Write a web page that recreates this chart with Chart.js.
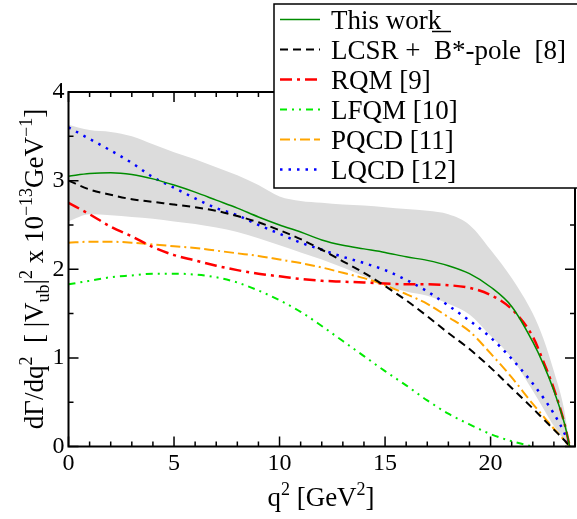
<!DOCTYPE html>
<html><head><meta charset="utf-8">
<script src="https://cdn.jsdelivr.net/npm/chart.js@4.4.0/dist/chart.umd.min.js"></script>
<style>html,body{margin:0;padding:0;background:#fff;overflow:hidden}</style>
</head><body>
<canvas id="c" width="577" height="519" style="display:block;width:577px;height:519px"></canvas>
<script>
// ---- data ----
const qAll = [0,1,2,3,4,5,6,7,8,9,10,11,12,13,14,15,16,17,18,19,20,21,22,22.5,23,23.5,23.75];
const thisWork = [3.05,3.08,3.09,3.07,3.02,2.95,2.87,2.78,2.69,2.59,2.50,2.42,2.33,2.27,2.23,2.19,2.14,2.10,2.04,1.95,1.80,1.58,1.18,0.93,0.63,0.26,0];
const bandHi   = [3.63,3.57,3.55,3.50,3.41,3.32,3.24,3.15,3.06,2.95,2.82,2.77,2.75,2.73,2.72,2.70,2.68,2.66,2.62,2.50,2.22,1.90,1.50,1.22,0.85,0.40,0];
const bandLo   = [2.54,2.62,2.61,2.59,2.57,2.54,2.51,2.47,2.42,2.35,2.27,2.19,2.11,2.02,1.92,1.82,1.75,1.70,1.61,1.49,1.25,1.00,0.63,0.43,0.23,0.07,0];
const lcsr     = [3.00,2.90,2.84,2.79,2.76,2.73,2.70,2.66,2.60,2.53,2.44,2.34,2.22,2.09,1.96,1.81,1.65,1.47,1.28,1.10,0.89,0.66,0.43,0.31,0.19,0.07,0];
const rqm      = [2.75,2.62,2.48,2.37,2.25,2.16,2.10,2.04,1.99,1.95,1.92,1.89,1.87,1.86,1.85,1.84,1.83,1.83,1.82,1.79,1.71,1.55,1.24,0.96,0.65,0.26,0];
const pqcd     = [2.30,2.31,2.31,2.30,2.28,2.26,2.24,2.21,2.18,2.15,2.11,2.07,2.02,1.96,1.90,1.82,1.72,1.61,1.46,1.30,1.05,0.78,0.48,0.34,0.20,0.07,0];
const lqcd     = [3.60,3.47,3.34,3.20,3.04,2.92,2.80,2.69,2.61,2.50,2.40,2.30,2.22,2.14,2.07,1.99,1.88,1.75,1.59,1.42,1.23,0.99,0.71,0.55,0.37,0.15,0];
const qLfqm    = [0,1,2,3,4,5,6,7,8,9,10,11,12,13,14,15,16,17,18,19,20,21,22];
const lfqm     = [1.83,1.87,1.91,1.93,1.95,1.95,1.94,1.91,1.85,1.76,1.65,1.52,1.36,1.19,1.02,0.85,0.69,0.52,0.37,0.25,0.14,0.06,0.0];
const xTicks = [0,5,10,15,20];
const yTicks = [0,1,2,3,4];
const seriesNames = ['This work','LCSR + ','RQM [9]','LFQM [10]','PQCD [11]','LQCD [12]'];
const lcsrTail = ['B','*-pole  [8]'];

const SERIF = '"Liberation Serif","DejaVu Serif",serif';
const pts = (xs, ys) => xs.map((x,i)=>({x:x,y:ys[i]}));

const styles = [
  {c:'rgb(0,140,0)', w:1.5, d:[]},
  {c:'#000000', w:2, d:[8,5]},
  {c:'#ff0000', w:2.5, d:[12,5,3,5]},
  {c:'rgb(0,235,0)', w:2, d:[7,5,2,5,2,5]},
  {c:'rgb(255,165,0)', w:2, d:[10,4,2,4,10,4]},
  {c:'#0000ff', w:2.5, d:[2.5,6]}
];
const seriesData = [pts(qAll,thisWork), pts(qAll,lcsr), pts(qAll,rqm), pts(qLfqm,lfqm), pts(qAll,pqcd), pts(qAll,lqcd)];

const datasets = seriesData.map((d,i)=>({
  label: seriesNames[i], data: d, borderColor: styles[i].c, borderWidth: styles[i].w,
  borderDash: styles[i].d, pointRadius: 0, fill: false, cubicInterpolationMode: 'monotone'
}));
datasets.push({label:'bandHi', data: pts(qAll,bandHi), borderWidth:0, borderColor:'rgba(0,0,0,0)', pointRadius:0,
  fill:'+1', backgroundColor:'rgb(220,220,220)', cubicInterpolationMode:'monotone'});
datasets.push({label:'bandLo', data: pts(qAll,bandLo), borderWidth:0, borderColor:'rgba(0,0,0,0)', pointRadius:0,
  fill:false, cubicInterpolationMode:'monotone'});

function richWidth(ctx, segs, size){
  let w=0;
  for(const [t,k] of segs){ ctx.font = (k==='n'?size:Math.round(size*0.65))+'px '+SERIF; w+=ctx.measureText(t).width; }
  return w;
}
function drawRich(ctx, segs, x, y, size){
  for(const [t,k] of segs){
    const s = k==='n'?size:Math.round(size*0.65);
    const dy = k==='sup'? -size*0.42 : (k==='sub'? size*0.22 : 0);
    ctx.font = s+'px '+SERIF;
    ctx.fillText(t, x, y+dy);
    x += ctx.measureText(t).width;
  }
}

const framePlugin = {
  id:'frame',
  afterDatasetsDraw(chart){
    const {ctx, chartArea:a, scales:{x,y}} = chart;
    ctx.save();
    ctx.strokeStyle='#000'; ctx.lineWidth=1.5;
    ctx.beginPath();
    for(let v=0; v<=24; v+=1){
      const px = x.getPixelForValue(v); const L = (v%5===0)?10:5;
      ctx.moveTo(px,a.bottom); ctx.lineTo(px,a.bottom-L);
      ctx.moveTo(px,a.top); ctx.lineTo(px,a.top+L);
    }
    for(let v=0; v<=4; v+=0.5){
      const py = y.getPixelForValue(v); const L = (v%1===0)?10:5;
      ctx.moveTo(a.left,py); ctx.lineTo(a.left+L,py);
      ctx.moveTo(a.right,py); ctx.lineTo(a.right-L,py);
    }
    ctx.stroke();
    ctx.lineWidth=2;
    ctx.strokeRect(a.left,a.top,a.right-a.left,a.bottom-a.top);
    ctx.restore();
  },
  afterDraw(chart){
    const ctx = chart.ctx;
    ctx.save();
    ctx.fillStyle='#000'; ctx.textBaseline='alphabetic'; ctx.textAlign='left';
    // x title
    const xt = [['q','n'],['2','sup'],[' [GeV','n'],['2','sup'],[']','n']];
    const xs = 27;
    const xw = richWidth(ctx,xt,xs);
    drawRich(ctx, xt, 321 - xw/2, 506, xs);
    // y title
    const yt = [['dΓ/dq','n'],['2','sup'],['  [ |V','n'],['ub','sub'],['|','n'],['2','sup'],[' x 10','n'],['−13','sup'],['GeV','n'],['−1','sup'],[']','n']];
    const ys = 27;
    const yw = richWidth(ctx,yt,ys);
    ctx.save();
    ctx.translate(43, 269);
    ctx.rotate(-Math.PI/2);
    drawRich(ctx, yt, -yw/2, 0, ys);
    ctx.restore();

    // legend
    const lx=274, ly=4, lb=188;
    ctx.fillStyle='#fff';
    ctx.fillRect(lx, ly, 577-lx, lb-ly);
    ctx.strokeStyle='#000'; ctx.lineWidth=1.5;
    ctx.beginPath(); ctx.moveTo(580,ly); ctx.lineTo(lx,ly); ctx.lineTo(lx,lb); ctx.lineTo(580,lb); ctx.stroke();
    const fs=27;
    for(let i=0;i<seriesNames.length;i++){
      const base = 28.5 + i*30;
      const st = styles[i];
      ctx.strokeStyle=st.c; ctx.lineWidth=st.w; ctx.setLineDash(st.d);
      ctx.beginPath(); ctx.moveTo(280, base-9); ctx.lineTo(320, base-9); ctx.stroke();
      ctx.setLineDash([]);
      ctx.fillStyle='#000'; ctx.font = fs+'px '+SERIF;
      ctx.fillText(seriesNames[i], 331, base);
      if(i===1){
        const w0 = ctx.measureText(seriesNames[i]+' ').width;
        const bx = 331 + w0;
        ctx.fillText(lcsrTail[0], bx, base);
        const bw = ctx.measureText(lcsrTail[0]).width;
        ctx.fillText(lcsrTail[1], bx + bw, base);
        ctx.strokeStyle='#000'; ctx.lineWidth=1.5;
        ctx.beginPath(); ctx.moveTo(bx-2, base-27); ctx.lineTo(bx+bw-1, base-27); ctx.stroke();
      }
    }
    ctx.restore();
  }
};

new Chart(document.getElementById('c'), {
  type:'line',
  data:{datasets},
  options:{
    responsive:false, animation:false, devicePixelRatio:1,
    layout:{padding:{left:0, top:92, right:2, bottom:0}},
    plugins:{legend:{display:false}, tooltip:{enabled:false}},
    scales:{
      x:{type:'linear', min:0, max:24,
        afterFit(s){ s.height = 72.5; },
        afterBuildTicks(s){ s.ticks = xTicks.map(v=>({value:v})); },
        grid:{display:false, drawTicks:false}, border:{display:false},
        ticks:{color:'#000', padding:3, maxRotation:0, autoSkip:false, font:{family:SERIF, size:24}}},
      y:{type:'linear', min:0, max:4,
        afterFit(s){ s.width = 68.5; },
        afterBuildTicks(s){ s.ticks = yTicks.map(v=>({value:v})); },
        grid:{display:false, drawTicks:false}, border:{display:false},
        ticks:{color:'#000', padding:4, autoSkip:false, font:{family:SERIF, size:24}}}
    }
  },
  plugins:[framePlugin]
});
</script>
</body></html>
